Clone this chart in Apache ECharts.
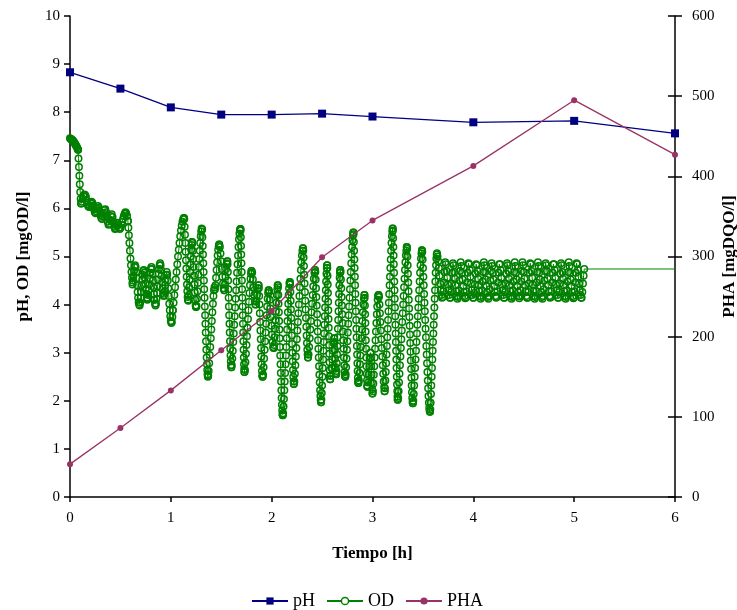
<!DOCTYPE html>
<html>
<head>
<meta charset="utf-8">
<script src="https://cdn.jsdelivr.net/npm/echarts@6/dist/echarts.min.js"></script>
<style>
  html, body { margin: 0; padding: 0; background: #fff; }
  #chart { width: 737px; height: 610px; }
</style>
</head>
<body>
<div id="chart"></div>
<script>
// pH and PHA samples (hourly grab samples)
const phTime = [0, 0.5, 1, 1.5, 2, 2.5, 3, 4, 5, 6];
const phValue = [8.83, 8.49, 8.10, 7.95, 7.95, 7.97, 7.91, 7.79, 7.82, 7.56];
const phaTime = [0, 0.5, 1, 1.5, 2, 2.5, 3, 4, 5, 6];
const phaValue = [41, 86, 133, 183, 232, 299, 345, 413, 495, 427];

// Dissolved oxygen probe log, stored as runs: [start h, end h, readings evenly spaced in between]
const odRuns = [
  [0.00, 0.08, [7.46,7.45,7.44,7.43,7.42,7.41,7.40,7.38,7.37,7.35,7.33,7.31,7.29,7.27,7.24,7.22]],
  [0.08, 0.11, [7.22,7.04,6.86,6.68,6.50,6.34,6.20,6.10]],
  [0.11, 0.574, [6.10,6.14,6.20,6.26,6.29,6.28,6.24,6.16,6.08,6.04,6.03,6.06,6.10,6.14,6.12,6.05,5.98,5.92,5.90,5.94,
                 6.00,6.05,6.02,5.95,5.86,5.80,5.78,5.83,5.90,5.96,5.98,5.92,5.82,5.72,5.66,5.68,5.76,5.84,5.88,5.82,
                 5.72,5.62,5.57,5.58,5.64,5.70,5.67,5.60,5.57,5.60,5.66,5.72,5.78,5.84,5.89,5.92,5.90,5.84,5.74]],
  [0.574, 0.62, [5.74,5.60,5.44,5.28,5.12,4.96,4.82,4.68,4.56,4.46]],
  [0.62, 1.02, [4.42,4.50,4.60,4.70,4.78,4.82,4.78,4.68,4.55,4.40,4.26,4.14,4.05,4.00,3.98,4.04,
                4.14,4.26,4.40,4.52,4.62,4.70,4.72,4.66,4.56,4.44,4.32,4.22,4.14,4.10,4.12,4.20,
                4.30,4.42,4.55,4.66,4.74,4.78,4.74,4.64,4.50,4.36,4.22,4.10,4.02,3.98,4.02,4.12,
                4.24,4.38,4.52,4.64,4.74,4.82,4.86,4.82,4.72,4.60,4.46,4.34,4.24,4.18,4.20,4.28,
                4.40,4.52,4.62,4.68,4.62,4.50,4.34,4.18,4.02,3.88,3.76,3.66,3.62,3.64,3.74,3.88]],
  [1.02, 1.13, [3.88,4.04,4.20,4.36,4.52,4.68,4.84,5.00,5.14,5.28,5.42,5.54,5.64,5.72,5.78,5.80]],
  [1.13, 1.17, [5.80,5.78,5.62,5.45,5.28,5.10,4.92,4.75,4.58,4.42,4.28,4.16,4.10]],
  [1.17, 1.21, [4.10,4.08,4.20,4.36,4.52,4.68,4.84,5.00,5.14,5.24,5.30]],
  [1.21, 1.25, [5.30,5.28,5.12,4.95,4.78,4.60,4.42,4.25,4.10,3.98,3.95]],
  [1.25, 1.31, [3.95,3.97,4.12,4.28,4.45,4.62,4.78,4.95,5.12,5.28,5.42,5.52,5.58,5.56]],
  [1.31, 1.37, [5.56,5.40,5.22,5.04,4.86,4.68,4.50,4.32,4.14,3.96,3.78,3.60,3.42,3.24,3.06,2.90,2.76,2.64,2.55,2.50,2.52]],
  [1.37, 1.48, [2.52,2.62,2.78,2.95,3.12,3.30,3.48,3.66,3.84,4.02,4.18,4.30,4.36,4.32,4.40,4.56,4.72,4.88,5.02,5.14,5.22,5.25]],
  [1.48, 1.53, [5.25,5.20,5.06,4.90,4.74,4.58,4.44,4.34,4.30]],
  [1.53, 1.56, [4.30,4.42,4.58,4.74,4.86,4.90]],
  [1.56, 1.60, [4.90,4.84,4.68,4.50,4.32,4.14,3.96,3.78,3.60,3.42,3.24,3.08,2.94,2.82,2.74,2.70]],
  [1.60, 1.69, [2.70,2.74,2.88,3.04,3.22,3.40,3.58,3.76,3.94,4.12,4.30,4.48,4.66,4.84,5.02,5.20,5.36,5.48,5.55,5.57]],
  [1.69, 1.73, [5.57,5.54,5.40,5.22,5.04,4.86,4.68,4.50,4.32,4.14,3.96,3.78,3.60,3.42,3.24,3.06,2.90,2.76,2.66,2.60]],
  [1.73, 1.80, [2.60,2.64,2.80,2.98,3.16,3.34,3.52,3.70,3.88,4.06,4.24,4.40,4.54,4.64,4.70]],
  [1.80, 1.84, [4.70,4.66,4.52,4.36,4.20,4.08,4.00]],
  [1.84, 1.87, [4.00,4.06,4.20,4.34,4.40]],
  [1.87, 1.91, [4.40,4.34,4.18,4.00,3.82,3.64,3.46,3.28,3.10,2.92,2.76,2.62,2.53,2.50]],
  [1.91, 1.97, [2.50,2.54,2.70,2.88,3.06,3.24,3.42,3.60,3.78,3.96,4.12,4.24,4.30]],
  [1.97, 2.02, [4.30,4.26,4.10,3.92,3.74,3.56,3.38,3.22,3.12,3.10]],
  [2.02, 2.06, [3.10,3.16,3.32,3.50,3.68,3.86,4.04,4.20,4.32,4.40]],
  [2.06, 2.11, [4.40,4.36,4.20,4.02,3.84,3.66,3.48,3.30,3.12,2.94,2.76,2.58,2.40,2.22,2.06,1.92,1.80,1.72,1.70]],
  [2.11, 2.18, [1.70,1.74,1.88,2.04,2.22,2.40,2.58,2.76,2.94,3.12,3.30,3.48,3.66,3.84,4.02,4.20,4.34,4.44,4.47]],
  [2.18, 2.22, [4.47,4.42,4.26,4.08,3.90,3.72,3.54,3.36,3.18,3.00,2.82,2.64,2.50,2.40,2.35]],
  [2.22, 2.31, [2.35,2.40,2.56,2.74,2.92,3.10,3.28,3.46,3.64,3.82,4.00,4.18,4.36,4.54,4.72,4.88,5.02,5.12,5.17]],
  [2.31, 2.36, [5.17,5.12,4.98,4.80,4.62,4.44,4.26,4.08,3.90,3.72,3.54,3.36,3.20,3.06,2.96,2.90]],
  [2.36, 2.43, [2.90,2.96,3.12,3.30,3.48,3.66,3.84,4.02,4.20,4.38,4.54,4.66,4.72]],
  [2.43, 2.49, [4.72,4.68,4.52,4.34,4.16,3.98,3.80,3.62,3.44,3.26,3.08,2.90,2.72,2.54,2.38,2.22,2.10,2.01,1.97]],
  [2.49, 2.55, [1.97,2.02,2.16,2.32,2.50,2.68,2.86,3.04,3.22,3.40,3.58,3.76,3.94,4.12,4.30,4.48,4.64,4.76,4.82]],
  [2.55, 2.58, [4.82,4.76,4.60,4.42,4.24,4.06,3.88,3.70,3.52,3.34,3.16,2.98,2.80,2.64,2.52,2.45]],
  [2.58, 2.62, [2.45,2.52,2.68,2.86,3.04,3.20,3.30]],
  [2.62, 2.64, [3.30,3.22,3.06,2.88,2.70,2.58,2.55]],
  [2.64, 2.68, [2.55,2.62,2.78,2.96,3.14,3.32,3.50,3.68,3.86,4.04,4.22,4.40,4.56,4.66,4.72]],
  [2.68, 2.73, [4.72,4.68,4.52,4.34,4.16,3.98,3.80,3.62,3.44,3.26,3.08,2.90,2.74,2.60,2.52,2.50]],
  [2.73, 2.81, [2.50,2.55,2.70,2.88,3.06,3.24,3.42,3.60,3.78,3.96,4.14,4.32,4.50,4.68,4.86,5.04,5.20,5.34,5.44,5.50]],
  [2.81, 2.86, [5.50,5.46,5.30,5.12,4.94,4.76,4.58,4.40,4.22,4.04,3.86,3.68,3.50,3.32,3.14,2.96,2.78,2.62,2.48,2.40,2.37]],
  [2.86, 2.92, [2.37,2.42,2.58,2.76,2.94,3.12,3.30,3.48,3.66,3.84,4.00,4.12,4.20]],
  [2.92, 2.95, [4.20,4.14,3.98,3.80,3.62,3.44,3.26,3.08,2.90,2.72,2.56,2.42,2.32,2.29]],
  [2.95, 2.98, [2.29,2.38,2.54,2.72,2.88,3.00]],
  [2.98, 3.00, [3.00,2.90,2.72,2.54,2.38,2.24,2.15]],
  [3.00, 3.06, [2.15,2.20,2.36,2.54,2.72,2.90,3.08,3.26,3.44,3.62,3.80,3.96,4.10,4.18,4.20]],
  [3.06, 3.12, [4.20,4.16,4.00,3.82,3.64,3.46,3.28,3.10,2.92,2.74,2.56,2.40,2.28,2.20]],
  [3.12, 3.20, [2.20,2.26,2.42,2.60,2.78,2.96,3.14,3.32,3.50,3.68,3.86,4.04,4.22,4.40,4.58,4.76,4.94,5.12,5.28,5.42,5.52,5.58]],
  [3.20, 3.25, [5.58,5.54,5.38,5.20,5.02,4.84,4.66,4.48,4.30,4.12,3.94,3.76,3.58,3.40,3.22,3.04,2.86,2.68,2.50,2.34,2.20,2.09,2.02]],
  [3.25, 3.34, [2.02,2.06,2.20,2.38,2.56,2.74,2.92,3.10,3.28,3.46,3.64,3.82,4.00,4.18,4.36,4.54,4.72,4.88,5.02,5.12,5.20]],
  [3.34, 3.40, [5.20,5.16,5.00,4.82,4.64,4.46,4.28,4.10,3.92,3.74,3.56,3.38,3.20,3.02,2.84,2.66,2.48,2.32,2.18,2.06,1.98,1.95]],
  [3.40, 3.49, [1.95,2.00,2.14,2.32,2.50,2.68,2.86,3.04,3.22,3.40,3.58,3.76,3.94,4.12,4.30,4.48,4.66,4.82,4.96,5.06,5.13]],
  [3.49, 3.57, [5.13,5.10,4.94,4.76,4.58,4.40,4.22,4.04,3.86,3.68,3.50,3.32,3.14,2.96,2.78,2.60,2.42,2.26,2.10,1.96,1.85,1.79,1.77]],
  [3.57, 3.64, [1.77,1.82,1.96,2.14,2.32,2.50,2.68,2.86,3.04,3.22,3.40,3.58,3.76,3.94,4.12,4.30,4.48,4.66,4.82,4.96,5.04,5.07]],
  [3.645, 5.10, [5.00,4.90,4.76,4.60,4.44,4.30,4.20,4.14,4.16,4.28,4.46,4.68,
                 4.88,4.84,4.70,4.56,4.42,4.30,4.20,4.14,4.14,4.26,4.44,4.66,
                 4.86,4.82,4.68,4.54,4.40,4.28,4.18,4.12,4.16,4.30,4.50,4.70,
                 4.88,4.80,4.66,4.52,4.38,4.26,4.18,4.13,4.15,4.28,4.46,4.66,
                 4.86,4.84,4.72,4.58,4.44,4.30,4.20,4.14,4.14,4.24,4.42,4.64,
                 4.84,4.82,4.70,4.54,4.40,4.28,4.18,4.12,4.16,4.30,4.48,4.68,
                 4.88,4.82,4.68,4.52,4.38,4.26,4.16,4.12,4.18,4.32,4.50,4.70,
                 4.86,4.80,4.66,4.52,4.38,4.26,4.18,4.14,4.16,4.28,4.46,4.66,
                 4.84,4.84,4.72,4.56,4.42,4.30,4.20,4.14,4.14,4.26,4.44,4.64,
                 4.86,4.82,4.70,4.54,4.40,4.28,4.18,4.12,4.16,4.30,4.48,4.68,
                 4.88,4.80,4.66,4.52,4.38,4.26,4.18,4.13,4.17,4.30,4.48,4.70,
                 4.88,4.82,4.68,4.54,4.40,4.28,4.18,4.14,4.14,4.26,4.44,4.66,
                 4.86,4.84,4.70,4.56,4.42,4.28,4.18,4.12,4.16,4.28,4.46,4.68,
                 4.88,4.80,4.66,4.52,4.38,4.26,4.16,4.12,4.18,4.32,4.50,4.70,
                 4.86,4.82,4.70,4.54,4.40,4.28,4.18,4.14,4.16,4.28,4.46,4.66,
                 4.84,4.84,4.72,4.56,4.42,4.30,4.20,4.14,4.14,4.26,4.44,4.64,
                 4.86,4.82,4.68,4.54,4.40,4.28,4.18,4.12,4.16,4.30,4.48,4.68,
                 4.88,4.80,4.66,4.52,4.38,4.26,4.18,4.13,4.15,4.28,4.46,4.66,
                 4.86,4.84,4.72,4.58,4.44,4.30,4.20,4.14,4.14,4.26,4.44,4.60,4.74]]
];
// last logged reading, drawn as a plain line segment
const odTailTime = 6.08;
const odTailValue = 4.74;

const xTicks = [0, 1, 2, 3, 4, 5, 6];
const leftTicks = [0, 10, 1];     // min, max, step
const rightTicks = [0, 600, 100]; // min, max, step

const FONT = '"Liberation Serif", "DejaVu Serif", serif';
const NAVY = '#000080';
const GREEN = '#008000';
const PLUM = '#993366';

function odPoints() {
  const pts = [];
  odRuns.forEach(([t0, t1, vals]) => {
    const n = vals.length;
    vals.forEach((v, k) => {
      pts.push([t0 + (t1 - t0) * (n > 1 ? k / (n - 1) : 0), v]);
    });
  });
  pts.push({ value: [odTailTime, odTailValue], symbol: 'none' });
  return pts;
}

const zip = (a, b) => a.map((t, i) => [t, b[i]]);

const axisText = { color: '#000', fontFamily: FONT, fontSize: 15 };
const nameText = { color: '#000', fontFamily: FONT, fontSize: 17, fontWeight: 'bold' };

const chart = echarts.init(document.getElementById('chart'), null, { renderer: 'canvas' });
chart.setOption({
  animation: false,
  backgroundColor: '#fff',
  grid: { left: 70, right: 62, top: 16, bottom: 113, containLabel: false, outerBoundsMode: 'none' },
  legend: {
    left: 246, top: 587,
    itemWidth: 36, itemHeight: 9, itemGap: 11,
    textStyle: { color: '#000', fontFamily: FONT, fontSize: 18 },
    data: [
      { name: 'pH' },
      { name: 'OD', itemStyle: { color: '#fff', borderColor: GREEN, borderWidth: 1.5 } },
      { name: 'PHA' }
    ]
  },
  xAxis: {
    type: 'value', min: xTicks[0], max: xTicks[xTicks.length - 1], interval: 1,
    name: 'Tiempo [h]', nameLocation: 'middle', nameGap: 48, nameTextStyle: nameText, nameMoveOverlap: false,
    axisLine: { lineStyle: { color: '#000', width: 1.5 } },
    axisTick: { show: true, inside: false, length: 5, lineStyle: { color: '#000', width: 1.5 } },
    axisLabel: Object.assign({ margin: 14 }, axisText),
    splitLine: { show: false }
  },
  yAxis: [
    {
      type: 'value', position: 'left', min: leftTicks[0], max: leftTicks[1], interval: leftTicks[2],
      name: 'pH, OD [mgOD/l]', nameLocation: 'middle', nameRotate: 90, nameGap: 38, nameTextStyle: nameText,
      nameMoveOverlap: false,
      axisLine: { show: true, lineStyle: { color: '#000', width: 1.5 } },
      axisTick: { show: true, inside: false, length: 6, lineStyle: { color: '#000', width: 1.5 } },
      axisLabel: Object.assign({ margin: 10 }, axisText),
      splitLine: { show: false }
    },
    {
      type: 'value', position: 'right', min: rightTicks[0], max: rightTicks[1], interval: rightTicks[2],
      name: 'PHA [mgDQO/l]', nameLocation: 'middle', nameRotate: 90, nameGap: 46, nameTextStyle: nameText,
      nameMoveOverlap: false,
      axisLine: { show: true, lineStyle: { color: '#000', width: 1.5 } },
      axisTick: { show: true, inside: false, length: 7, lineStyle: { color: '#000', width: 1.5 } },
      axisLabel: Object.assign({ margin: 17 }, axisText),
      splitLine: { show: false }
    },
    {
      // inner half of the crossing ticks on the right axis
      type: 'value', position: 'right', min: rightTicks[0], max: rightTicks[1], interval: rightTicks[2],
      axisLine: { show: false },
      axisTick: { show: true, inside: true, length: 7, lineStyle: { color: '#000', width: 1.5 } },
      axisLabel: { show: false },
      splitLine: { show: false }
    }
  ],
  series: [
    {
      name: 'pH', type: 'line', yAxisIndex: 0, z: 4,
      data: zip(phTime, phValue),
      symbol: 'rect', symbolSize: 8,
      itemStyle: { color: NAVY },
      lineStyle: { color: NAVY, width: 1.3 }
    },
    {
      name: 'OD', type: 'line', yAxisIndex: 0, z: 2,
      data: odPoints(),
      symbol: 'circle', symbolSize: 6.5, showAllSymbol: true, sampling: 'none', clip: false,
      itemStyle: { color: 'rgba(0,0,0,0)', borderColor: GREEN, borderWidth: 1.5 },
      lineStyle: { color: GREEN, width: 1 }
    },
    {
      name: 'PHA', type: 'line', yAxisIndex: 1, z: 5,
      data: zip(phaTime, phaValue),
      symbol: 'circle', symbolSize: 6,
      itemStyle: { color: PLUM },
      lineStyle: { color: PLUM, width: 1.3 }
    }
  ]
});
</script>
</body>
</html>
